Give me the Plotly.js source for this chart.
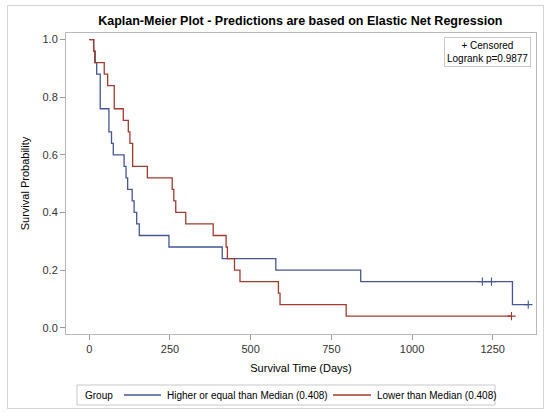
<!DOCTYPE html>
<html>
<head>
<meta charset="utf-8">
<script src="https://cdn.plot.ly/plotly-3.0.1.min.js"></script>
<style>
  html, body { margin: 0; padding: 0; background: #fff; }
  #wrap { position: relative; width: 550px; height: 412px; }
  #chart { width: 550px; height: 412px; }
  #frame { position: absolute; left: 7px; top: 5px; width: 535px; height: 402px;
           border: 1px solid #d4d4d4; pointer-events: none; }
</style>
</head>
<body>
<div id="wrap">
  <div id="chart"></div>
  <div id="frame"></div>
</div>
<script>
// Higher or equal than Median group (blue)
const blueTimes = [0, 14, 17, 23, 34, 61, 69, 74.5, 108, 114, 119, 133, 139, 147, 155, 247, 412, 578, 841, 1311, 1360];
const blueSurv  = [1.0, 0.96, 0.92, 0.88, 0.76, 0.68, 0.64, 0.60, 0.56, 0.52, 0.48, 0.44, 0.40, 0.36, 0.32, 0.28, 0.24, 0.20, 0.16, 0.08, 0.08];
const blueCensTimes = [1218, 1246, 1360];
const blueCensSurv  = [0.16, 0.16, 0.08];

// Lower than Median group (red)
const redTimes = [0, 13.5, 18.6, 46.5, 57, 77.5, 105.5, 121, 126, 134.5, 180, 257, 262, 268, 299, 384, 424, 428, 450, 467, 586, 591, 796, 1308];
const redSurv  = [1.0, 0.96, 0.92, 0.88, 0.84, 0.76, 0.72, 0.68, 0.64, 0.56, 0.52, 0.48, 0.44, 0.40, 0.36, 0.32, 0.28, 0.24, 0.20, 0.16, 0.12, 0.08, 0.04, 0.04];
const redCensTimes = [1308];
const redCensSurv  = [0.04];

const groupNames = ['Higher or equal than Median (0.408)', 'Lower than Median (0.408)'];
const xTicks = [0, 250, 500, 750, 1000, 1250];
const yTicks = [0.0, 0.2, 0.4, 0.6, 0.8, 1.0];

const blueColor = '#445694';
const redColor = '#A23A2E';
const groupColors = [blueColor, redColor];
const FONT = 'Liberation Sans, Arial, sans-serif';

const traces = [
  { x: blueTimes, y: blueSurv, type: 'scatter', mode: 'lines', line: { shape: 'hv', color: blueColor, width: 1.3 },
    name: groupNames[0], showlegend: false },
  { x: redTimes, y: redSurv, type: 'scatter', mode: 'lines', line: { shape: 'hv', color: redColor, width: 1.3 },
    name: groupNames[1], showlegend: false },
  { x: blueCensTimes, y: blueCensSurv, type: 'scatter', mode: 'markers',
    marker: { symbol: 'cross-thin-open', size: 6, color: blueColor, line: { color: blueColor, width: 1.1 } },
    showlegend: false, hoverinfo: 'skip' },
  { x: redCensTimes, y: redCensSurv, type: 'scatter', mode: 'markers',
    marker: { symbol: 'cross-thin-open', size: 6, color: redColor, line: { color: redColor, width: 1.1 } },
    showlegend: false, hoverinfo: 'skip' }
];

// Bottom group legend (box, line samples and labels) in paper coordinates
const legY = -0.2027;
const legendShapes = [
  { type: 'rect', xref: 'paper', yref: 'paper', x0: 0.0234, x1: 0.9128, y0: -0.2359, y1: -0.1694,
    line: { color: '#c8c8c8', width: 1 }, fillcolor: 'rgba(0,0,0,0)' },
  { type: 'line', xref: 'paper', yref: 'paper', x0: 0.1234, x1: 0.2021, y0: legY, y1: legY,
    line: { color: groupColors[0], width: 1.3 } },
  { type: 'line', xref: 'paper', yref: 'paper', x0: 0.5681, x1: 0.6489, y0: legY, y1: legY,
    line: { color: groupColors[1], width: 1.3 } }
];
const legendFont = { family: FONT, size: 10, color: '#000' };
const legendAnns = [
  { xref: 'paper', yref: 'paper', x: 0.0362, y: legY, xanchor: 'left', yanchor: 'middle',
    text: 'Group', showarrow: false, font: legendFont },
  { xref: 'paper', yref: 'paper', x: 0.2106, y: legY, xanchor: 'left', yanchor: 'middle',
    text: groupNames[0], showarrow: false, font: legendFont },
  { xref: 'paper', yref: 'paper', x: 0.6574, y: legY, xanchor: 'left', yanchor: 'middle',
    text: groupNames[1], showarrow: false, font: legendFont }
];

const layout = {
  width: 550, height: 412,
  margin: { l: 66, r: 14, t: 33, b: 78, autoexpand: false },
  paper_bgcolor: '#fff', plot_bgcolor: '#fff',
  font: { family: FONT, size: 11, color: '#333' },
  showlegend: false,
  title: { text: '<b>Kaplan-Meier Plot - Predictions are based on Elastic Net Regression</b>',
           font: { family: FONT, size: 12.5, color: '#000' }, x: 0.546, xanchor: 'center', y: 0.95, yanchor: 'middle' },
  xaxis: {
    range: [-72, 1384], tickvals: xTicks, ticktext: xTicks.map(String), automargin: false,
    showgrid: false, zeroline: false, showline: true, mirror: true, linecolor: '#b8b8b8', linewidth: 1,
    ticks: 'outside', ticklen: 5, tickcolor: '#999', tickfont: { size: 11, color: '#333' },
    title: { text: 'Survival Time (Days)', font: { size: 11, color: '#000' }, standoff: 10 }
  },
  yaxis: {
    range: [-0.022, 1.023], tickvals: yTicks, ticktext: yTicks.map(v => v.toFixed(1)), automargin: false,
    showgrid: false, zeroline: false, showline: true, mirror: true, linecolor: '#b8b8b8', linewidth: 1,
    ticks: 'outside', ticklen: 5, tickcolor: '#999', tickfont: { size: 11, color: '#333' },
    title: { text: 'Survival Probability', font: { size: 11, color: '#000' }, standoff: 10 }
  },
  shapes: legendShapes,
  annotations: [{
    xref: 'paper', yref: 'paper', x: 0.99, y: 0.988, xanchor: 'right', yanchor: 'top',
    text: '+ Censored<br>Logrank p=0.9877', showarrow: false, align: 'center',
    font: { size: 10, color: '#000' }, bordercolor: '#c8c8c8', borderwidth: 1, borderpad: 2, bgcolor: '#fff'
  }].concat(legendAnns)
};

Plotly.newPlot('chart', traces, layout, { displayModeBar: false, staticPlot: true });
</script>
</body>
</html>
